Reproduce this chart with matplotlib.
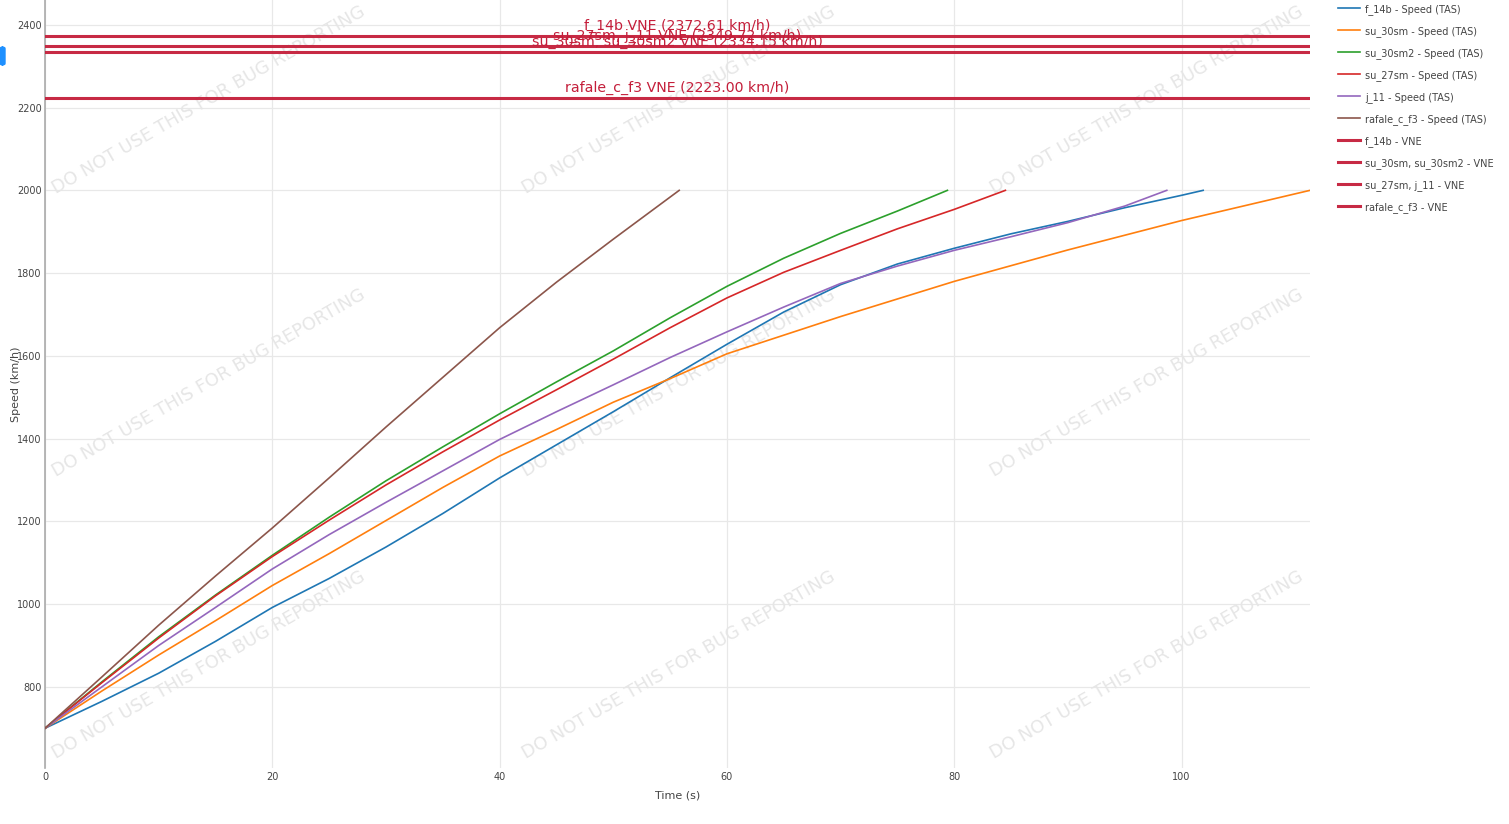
import matplotlib
matplotlib.use('Agg')
import matplotlib.pyplot as plt
from matplotlib.patches import FancyBboxPatch

plt.rcParams['font.family'] = ['DejaVu Sans']

# speed curves (time s, TAS km/h)
f14b_t = [0, 5, 10, 15, 20, 25, 30, 35, 40, 45, 50, 55, 60, 65, 70, 75, 80, 85, 90, 95, 100, 101.9]
f14b_v = [700, 765, 833, 910, 992, 1062, 1138, 1219, 1305, 1385, 1465, 1547, 1628, 1706, 1772, 1822, 1860, 1895, 1925, 1958, 1988, 2000]

su30sm_t = [0, 5, 10, 15, 20, 25, 30, 35, 40, 45, 50, 55, 60, 70, 80, 90, 100, 111.3]
su30sm_v = [700, 790, 877, 960, 1045, 1122, 1202, 1282, 1358, 1422, 1488, 1545, 1605, 1695, 1780, 1856, 1927, 2000]

su30sm2_t = [0, 5, 10, 15, 20, 25, 30, 35, 40, 45, 50, 55, 60, 65, 70, 75, 79.4]
su30sm2_v = [700, 812, 921, 1022, 1118, 1210, 1298, 1380, 1460, 1537, 1612, 1692, 1768, 1836, 1896, 1950, 2000]

su27sm_t = [0, 5, 10, 15, 20, 25, 30, 35, 40, 45, 50, 55, 60, 65, 70, 75, 80, 84.5]
su27sm_v = [700, 810, 918, 1020, 1115, 1203, 1288, 1368, 1445, 1518, 1592, 1668, 1740, 1802, 1855, 1907, 1954, 2000]

j11_t = [0, 5, 10, 15, 20, 25, 30, 35, 40, 45, 50, 55, 60, 65, 70, 75, 80, 85, 90, 95, 98.7]
j11_v = [700, 800, 900, 992, 1085, 1168, 1246, 1322, 1398, 1465, 1530, 1596, 1658, 1718, 1775, 1817, 1855, 1888, 1922, 1962, 2000]

rafale_t = [0, 5, 10, 15, 20, 25, 30, 35, 40, 45, 50, 55.8]
rafale_v = [700, 824, 949, 1068, 1184, 1305, 1428, 1548, 1668, 1778, 1882, 2000]

series = [
    ('f_14b - Speed (TAS)', f14b_t, f14b_v, '#1f77b4'),
    ('su_30sm - Speed (TAS)', su30sm_t, su30sm_v, '#ff7f0e'),
    ('su_30sm2 - Speed (TAS)', su30sm2_t, su30sm2_v, '#2ca02c'),
    ('su_27sm - Speed (TAS)', su27sm_t, su27sm_v, '#d62728'),
    ('j_11 - Speed (TAS)', j11_t, j11_v, '#9467bd'),
    ('rafale_c_f3 - Speed (TAS)', rafale_t, rafale_v, '#8c564b'),
]

vne_names = ['f_14b', 'su_30sm, su_30sm2', 'su_27sm, j_11', 'rafale_c_f3']
vne_values = [2372.61, 2334.15, 2349.72, 2223.00]

VNE_COLOR = '#c41e3a'
GRID = '#e8e8e8'
TXT = '#444444'

fig = plt.figure(figsize=(15.09, 8.24), dpi=100)
ax = fig.add_axes([45 / 1509, 1 - 768 / 824, (1310 - 45) / 1509, 768 / 824])

for name, t, v, c in series:
    ax.plot(t, v, color=c, lw=1.2, label=name, zorder=3)

x_max = max(max(s[1]) for s in series)
x_mid = x_max / 2
for name, val in zip(vne_names, vne_values):
    ax.axhline(val, color=VNE_COLOR, lw=2.2, alpha=0.95, label=name + ' - VNE', zorder=4)
    ax.text(x_mid, val + 7, '%s VNE (%.2f km/h)' % (name, val), color=VNE_COLOR,
            fontsize=10.2, ha='center', va='bottom', zorder=5)

ax.set_xlim(0, x_max)
ax.set_ylim(604, 2460)
ax.set_xticks([0, 20, 40, 60, 80, 100])
ax.set_yticks(range(800, 2401, 200))
ax.grid(True, color=GRID, lw=0.9, zorder=0)
ax.set_axisbelow(True)
ax.tick_params(length=0, labelsize=7, colors=TXT)
ax.tick_params(axis='x', pad=3)
ax.tick_params(axis='y', pad=2.5)
for s in ['top', 'right', 'bottom']:
    ax.spines[s].set_visible(False)
ax.spines['left'].set_color('#aaaaaa')
ax.spines['left'].set_linewidth(1.2)

ax.set_xlabel('Time (s)', fontsize=8, color=TXT)
ax.set_ylabel('Speed (km/h)', fontsize=8, color=TXT)
ax.xaxis.set_label_coords(0.5, -(791 - 768) / 768)
ax.yaxis.set_label_coords((21 - 45) / 1265, 0.5)

# watermark grid, kept behind the curves
for cx in [209, 679, 1147]:
    for cy in [100, 383, 665]:
        ax.text(cx / 1509, 1 - cy / 824, 'DO NOT USE THIS FOR BUG REPORTING',
                transform=fig.transFigure, fontsize=13, color='#e6e6e6', rotation=30,
                ha='center', va='center', rotation_mode='anchor', zorder=1, clip_on=False)

# small blue marker at left edge
fig.patches.append(FancyBboxPatch((0, 1 - 65 / 824), 5 / 1509, 18 / 824,
                                  boxstyle='round,pad=0,rounding_size=0.002',
                                  transform=fig.transFigure, color='#1e90ff', zorder=10))

handles, labels = ax.get_legend_handles_labels()
leg = fig.legend(handles, labels, loc='upper left', bbox_to_anchor=(1334 / 1509, 1),
                 frameon=False, fontsize=7, handlelength=2.3, handletextpad=0.5,
                 labelspacing=1.14, borderaxespad=0)
for txt in leg.get_texts():
    txt.set_color(TXT)

fig.savefig('out.png', dpi=100)
